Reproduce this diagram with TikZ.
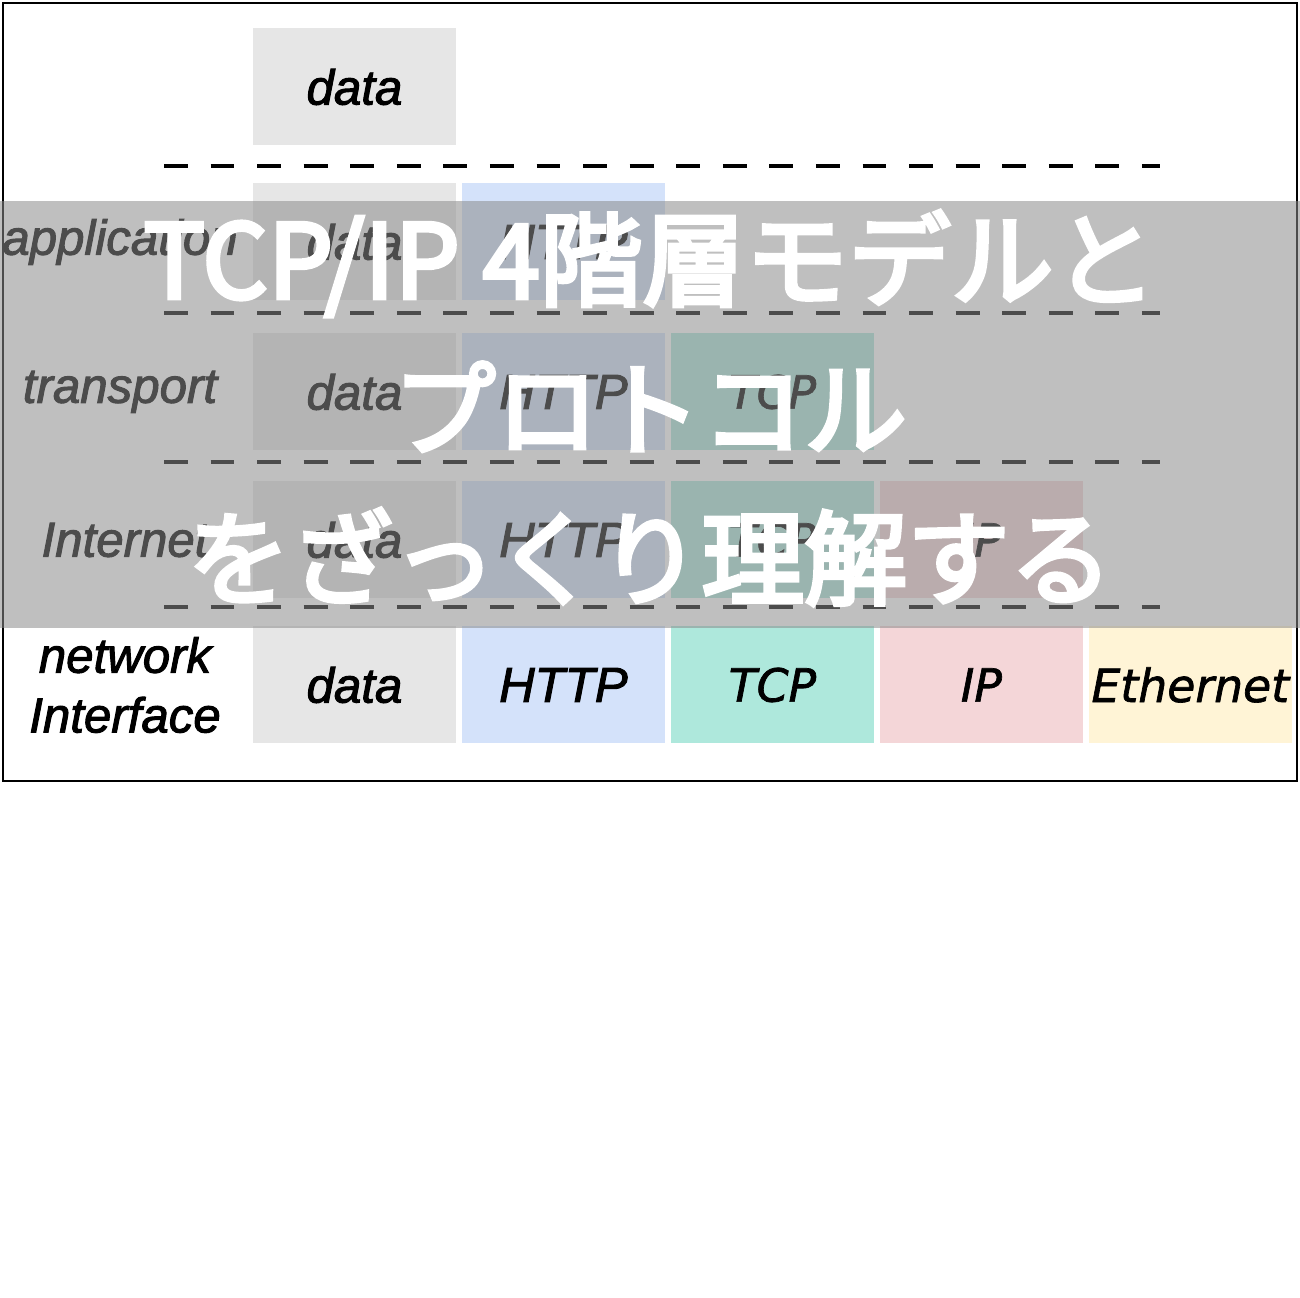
\documentclass[tikz,border=0pt]{standalone}
\usepackage{fontspec}
\setmainfont[FakeBold=2]{Liberation Sans}
\newfontfamily\dejavu[FakeBold=1.5]{DejaVu Sans}
\newfontfamily\cjk[FakeBold=4]{Noto Sans CJK JP}
\usepackage{xcolor}
\usetikzlibrary{positioning}

\definecolor{datagray}{HTML}{E6E6E6}
\definecolor{httpblue}{HTML}{D4E2FA}
\definecolor{tcpgreen}{HTML}{AEE8DC}
\definecolor{ipred}{HTML}{F4D6D8}
\definecolor{ethyellow}{HTML}{FFF4D6}
\definecolor{bandgray}{RGB}{139,139,139}

\begin{document}
\begin{tikzpicture}[
  box/.style = {minimum width = 4.06cm, minimum height = 2.34cm, inner sep = 0pt,
    font = \fontsize{28}{30}\selectfont\itshape},
  vbox/.style = {box, font = \dejavu\fontsize{26}{30}\selectfont\itshape},
  layer/.style = {align = center, inner sep = 0pt, font = \fontsize{28}{34}\selectfont\itshape},
  sep/.style = {line width = 2.4pt, dash pattern = on 13.6pt off 12.9pt}
]
  \useasboundingbox (0,0) rectangle (26,25.96);
  \draw[line width = 1.5pt] (0.06,10.34) rectangle (25.94,25.9);

  % top row
  \node[box, fill = datagray] (data0) at (7.09,24.22) {data};
  \draw[sep] (3.28,22.64) -- (23.2,22.64);

  % application
  \node[layer] (app) at (2.4,21.12) {application};
  \node[box, fill = datagray] (data1) at (7.09,21.12) {data};
  \node[box, fill = httpblue, right = 0.105cm of data1] (http1) {HTTP};
  \draw[sep] (3.28,19.7) -- (23.2,19.7);

  % transport
  \node[layer] (trans) at (2.4,18.12) {transport};
  \node[box, fill = datagray] (data2) at (7.09,18.12) {data};
  \node[box, fill = httpblue, right = 0.105cm of data2] (http2) {HTTP};
  \node[vbox, fill = tcpgreen, right = 0.105cm of http2] (tcp2) {TCP};
  \draw[sep] (3.28,16.72) -- (23.2,16.72);

  % Internet
  \node[layer] (inet) at (2.5,15.16) {Internet};
  \node[box, fill = datagray] (data3) at (7.09,15.16) {data};
  \node[box, fill = httpblue, right = 0.105cm of data3] (http3) {HTTP};
  \node[vbox, fill = tcpgreen, right = 0.105cm of http3] (tcp3) {TCP};
  \node[vbox, fill = ipred, right = 0.105cm of tcp3] (ip3) {IP};
  \draw[sep] (3.28,13.82) -- (23.2,13.82);

  % network interface
  \node[layer] (netif) at (2.5,12.26) {network\\Interface};
  \node[box, fill = datagray] (data4) at (7.09,12.26) {data};
  \node[box, fill = httpblue, right = 0.105cm of data4] (http4) {HTTP};
  \node[vbox, fill = tcpgreen, right = 0.105cm of http4] (tcp4) {TCP};
  \node[vbox, fill = ipred, right = 0.105cm of tcp4] (ip4) {IP};
  \node[vbox, fill = ethyellow, right = 0.105cm of ip4] (eth4) {Ethernet};

  % title band
  \fill[bandgray, opacity = 0.55] (0,13.4) rectangle (26,21.94);
  \node[text = white, align = center, font = \cjk\fontsize{58.5}{85}\selectfont] (title) at (13,17.8)
    {TCP/IP 4階層モデルと\\プロトコル\\をざっくり理解する};
\end{tikzpicture}
\end{document}
